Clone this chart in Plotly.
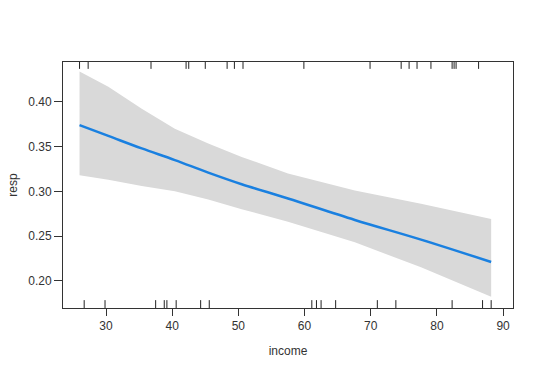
import plotly.graph_objects as go

# effect line and confidence band
income = [26.0, 30.35, 35.4, 40.4, 45.45, 50.5, 57.5, 67.6, 77.6, 88.2]
fit = [0.374, 0.362, 0.348, 0.335, 0.321, 0.308, 0.292, 0.268, 0.246, 0.221]
upper = [0.434, 0.417, 0.3925, 0.370, 0.3534, 0.3385, 0.320, 0.301, 0.286, 0.269]
lower = [0.318, 0.313, 0.306, 0.300, 0.291, 0.280, 0.266, 0.243, 0.215, 0.182]

# rug marks
rug_bottom = [26.7, 29.85, 37.5, 38.8, 39.2, 40.6, 44.3, 45.6, 61.1, 61.8, 62.5,
              64.7, 71.0, 73.8, 82.3, 86.9, 88.2]
rug_top = [26.0, 27.3, 36.8, 42.1, 42.5, 45.0, 48.3, 49.4, 50.7, 59.9, 69.9,
           74.6, 75.8, 77.0, 79.1, 82.3, 82.6, 82.9, 86.3]

x_ticks = [30, 40, 50, 60, 70, 80, 90]
y_ticks = [0.20, 0.25, 0.30, 0.35, 0.40]
y_tick_labels = ["0.20", "0.25", "0.30", "0.35", "0.40"]

fig = go.Figure()
fig.add_trace(go.Scatter(x=income + income[::-1], y=upper + lower[::-1],
                         fill="toself", fillcolor="#d9d9d9", line=dict(width=0),
                         mode="lines", hoverinfo="skip", showlegend=False))
fig.add_trace(go.Scatter(x=income, y=fit, mode="lines", line_shape="spline",
                         line=dict(color="#1a80e0", width=2.5), showlegend=False))

shapes = []
for v in rug_bottom:
    shapes.append(dict(type="line", xref="x", yref="paper", x0=v, x1=v, y0=0, y1=0.032,
                       line=dict(color="#222222", width=1)))
for v in rug_top:
    shapes.append(dict(type="line", xref="x", yref="paper", x0=v, x1=v, y0=1, y1=0.972,
                       line=dict(color="#222222", width=1)))
fig.update_layout(shapes=shapes)

fig.update_layout(
    width=540, height=386,
    margin=dict(l=63, r=27, t=62, b=78),
    paper_bgcolor="white", plot_bgcolor="white",
    font=dict(family="Liberation Sans, Arial, sans-serif", size=12, color="#333333"),
    xaxis=dict(range=[23.5, 91.5], tickvals=x_ticks, ticks="outside", ticklen=7,
               tickcolor="#333333", showgrid=False, zeroline=False, showline=True,
               linecolor="#333333", linewidth=1, mirror=True,
               title=dict(text="income", font=dict(size=12), standoff=14)),
    yaxis=dict(range=[0.1695, 0.4447], tickvals=y_ticks, ticktext=y_tick_labels,
               ticks="outside", ticklen=8, tickcolor="#333333", showgrid=False,
               zeroline=False, showline=True, linecolor="#333333", linewidth=1,
               mirror=True, title=dict(text="resp", font=dict(size=12), standoff=8)),
)

fig.write_html("out.html")
